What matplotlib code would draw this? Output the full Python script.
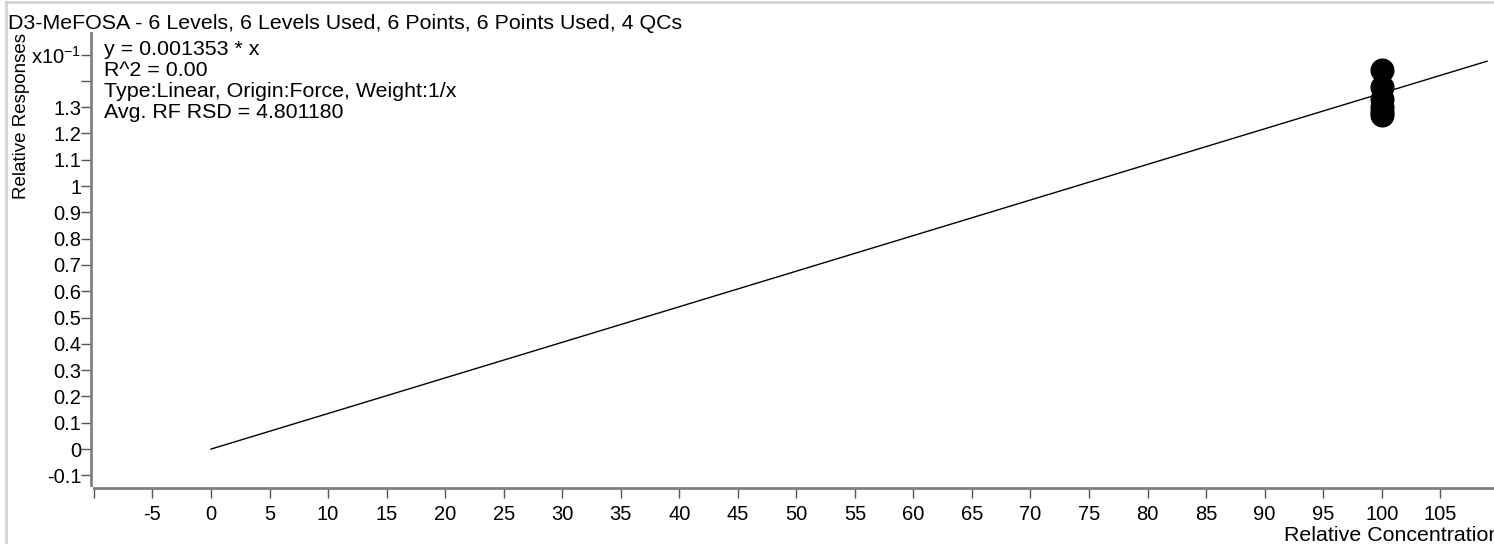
import numpy as np
import matplotlib.pyplot as plt
from matplotlib.lines import Line2D

plt.rcParams['font.family'] = ['Liberation Sans', 'DejaVu Sans']
plt.rcParams['mathtext.fontset'] = 'custom'
plt.rcParams['mathtext.rm'] = 'Liberation Sans'
plt.rcParams['mathtext.it'] = 'Liberation Sans'

# calibration data (relative concentration, relative response)
conc = [100, 100, 100, 100, 100, 100]
resp = [0.1440, 0.1378, 0.1332, 0.1302, 0.1282, 0.1269]
slope = 0.001353
fit_x = [0, 109]

title = "D3-MeFOSA - 6 Levels, 6 Levels Used, 6 Points, 6 Points Used, 4 QCs"
info = ["y = 0.001353 * x", "R^2 = 0.00", "Type:Linear, Origin:Force, Weight:1/x",
        "Avg. RF RSD = 4.801180"]
xticks = np.arange(-10, 110, 5)
yticks = np.round(np.arange(-0.1, 1.55, 0.1), 1)

W, H = 1494, 544
fig = plt.figure(figsize=(W / 100, H / 100), dpi=100)

xmin, xmax = -10.25, 111
ymin, ymax = -0.148, 1.582
left, top, bottom = 91, 33, 488
ax_w = (xmax - xmin) * 11.707
ax = fig.add_axes([left / W, 1 - bottom / H, ax_w / W, (bottom - top) / H])

scale = 10  # axis shown in x10^-1
fx = np.array(fit_x)
ax.plot(fx, slope * fx * scale, color='black', lw=1)
ax.scatter(conc, np.array(resp) * scale, s=266, color='black', zorder=3)

ax.set_xlim(xmin, xmax)
ax.set_ylim(ymin, ymax)
ax.set_xticks(xticks)
ax.set_xticklabels(['' if t == -10 else str(t) for t in xticks])
ax.set_yticks(yticks)
ylabels = []
for t in yticks:
    if t == 1.4:
        ylabels.append('')
    elif t == 1.5:
        ylabels.append(r'x10$^{\mathrm{-1}}$')
    elif t == int(t):
        ylabels.append(str(int(t)))
    else:
        ylabels.append(str(t))
ax.set_yticklabels(ylabels)

for s in ['top', 'right']:
    ax.spines[s].set_visible(False)
for s in ['left', 'bottom']:
    ax.spines[s].set_color('#808080')
    ax.spines[s].set_linewidth(2)
ax.spines['bottom'].set_bounds(-10, xmax)
ax.spines['left'].set_bounds(-0.137, ymax)
ax.tick_params(axis='both', direction='out', length=7, width=1, color='#555555',
               labelsize=14.5)
ax.tick_params(axis='y', pad=0)
ax.tick_params(axis='x', pad=5.5)

fig.text(8 / W, 1 - 29 / H, title, fontsize=15.4, ha='left', va='baseline')
for i, line in enumerate(info):
    fig.text(104 / W, 1 - (55 + 21 * i) / H, line, fontsize=15.4, ha='left',
             va='baseline')
fig.text(22 / W, 1 - 33 / H, "Relative Responses", fontsize=13.5, rotation=90,
         ha='center', va='top')
fig.text(1500 / W, 1 - 541 / H, "Relative Concentration", fontsize=15.4,
         ha='right', va='baseline')

# outer frame
fig.add_artist(Line2D([6 / W, 6 / W], [0, 1 - 2 / H], color='#d3d3d3', lw=2))
fig.add_artist(Line2D([6 / W, 1], [1 - 2 / H, 1 - 2 / H], color='#d3d3d3', lw=2))

fig.savefig('out.png', dpi=100)
